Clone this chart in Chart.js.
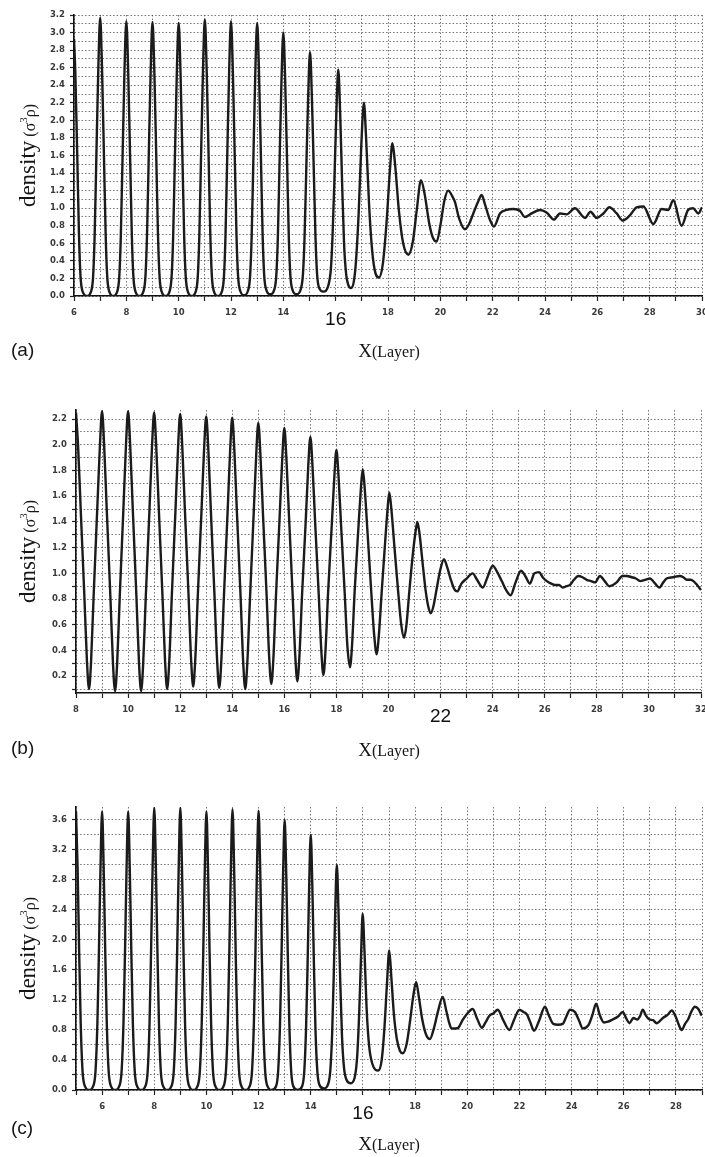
<!DOCTYPE html>
<html>
<head>
<meta charset="utf-8">
<script src="https://cdn.jsdelivr.net/npm/chart.js@4.4.0/dist/chart.umd.min.js"></script>
<style>
  html, body { margin: 0; padding: 0; background: #fff; width: 705px; height: 1157px; overflow: hidden; }
  .panel { position: absolute; left: 0; width: 720px; }
</style>
</head>
<body>
<div class="panel" style="top:0px;height:370px"><canvas id="chartA"></canvas></div>
<div class="panel" style="top:370px;height:390px"><canvas id="chartB"></canvas></div>
<div class="panel" style="top:760px;height:397px"><canvas id="chartC"></canvas></div>
<script>
// density profiles (a), (b), (c) as [x, density] pairs

const densityA = [
  [6.00,2.93],[6.05,2.55],[6.13,1.52],[6.19,0.70],[6.25,0.22],[6.33,0.05],[6.50,0.00],
  [6.65,0.05],[6.73,0.22],[6.79,0.70],[6.85,1.52],[6.93,2.60],[7.00,3.17],[7.07,2.60],[7.15,1.52],[7.21,0.70],[7.27,0.22],[7.35,0.05],[7.50,0.00],
  [7.65,0.05],[7.73,0.22],[7.79,0.69],[7.85,1.50],[7.93,2.57],[8.00,3.13],[8.07,2.57],[8.15,1.50],[8.21,0.69],[8.27,0.22],[8.35,0.05],[8.50,0.00],
  [8.65,0.05],[8.73,0.22],[8.79,0.69],[8.85,1.50],[8.93,2.56],[9.00,3.12],[9.07,2.56],[9.15,1.50],[9.21,0.69],[9.27,0.22],[9.35,0.05],[9.50,0.00],
  [9.65,0.05],[9.73,0.22],[9.79,0.68],[9.85,1.49],[9.93,2.55],[10.00,3.11],[10.07,2.55],[10.15,1.49],[10.21,0.68],[10.27,0.22],[10.35,0.05],[10.50,0.00],
  [10.65,0.05],[10.73,0.22],[10.79,0.69],[10.85,1.51],[10.93,2.58],[11.00,3.15],[11.07,2.58],[11.15,1.51],[11.21,0.69],[11.27,0.22],[11.35,0.05],[11.50,0.00],
  [11.65,0.05],[11.73,0.22],[11.79,0.69],[11.85,1.50],[11.93,2.57],[12.00,3.13],[12.07,2.57],[12.15,1.50],[12.21,0.69],[12.27,0.23],[12.35,0.06],[12.50,0.01],
  [12.65,0.06],[12.73,0.23],[12.79,0.68],[12.85,1.49],[12.93,2.55],[13.00,3.11],[13.07,2.55],[13.15,1.49],[13.21,0.68],[13.27,0.23],[13.35,0.07],[13.50,0.02],
  [13.65,0.07],[13.73,0.23],[13.79,0.66],[13.85,1.44],[13.93,2.46],[14.00,3.00],[14.07,2.46],[14.15,1.44],[14.21,0.66],[14.27,0.23],[14.35,0.07],[14.51,0.02],
  [14.67,0.08],[14.75,0.25],[14.81,0.66],[14.87,1.36],[14.95,2.28],[15.02,2.78],[15.09,2.28],[15.17,1.36],[15.23,0.66],[15.29,0.25],[15.37,0.09],[15.53,0.05],
  [15.72,0.12],[15.82,0.32],[15.88,0.68],[15.95,1.30],[16.03,2.12],[16.10,2.58],[16.17,2.10],[16.25,1.25],[16.32,0.60],[16.40,0.25],[16.48,0.13],[16.58,0.09],
  [16.75,0.30],[16.88,0.95],[16.98,1.72],[17.08,2.20],[17.16,1.82],[17.28,1.02],[17.40,0.50],[17.52,0.26],[17.65,0.21],
  [17.80,0.36],[17.95,0.86],[18.07,1.42],[18.17,1.74],[18.27,1.50],[18.42,0.96],[18.58,0.60],[18.78,0.47],
  [18.95,0.62],[19.10,0.98],[19.26,1.32],[19.40,1.16],[19.58,0.82],[19.72,0.66],[19.86,0.62],
  [20.00,0.80],[20.15,1.08],[20.30,1.20],[20.45,1.14],[20.56,1.07],[20.72,0.88],[20.94,0.76],
  [21.10,0.82],[21.26,0.94],[21.45,1.08],[21.58,1.15],[21.70,1.05],[21.88,0.88],[22.05,0.79],
  [22.28,0.94],[22.53,0.98],[22.79,0.99],[23.04,0.97],[23.23,0.90],[23.49,0.94],[23.81,0.98],[24.06,0.95],
  [24.34,0.87],[24.57,0.94],[24.83,0.93],[25.14,1.00],[25.53,0.89],[25.74,0.96],[25.97,0.89],[26.23,0.94],
  [26.46,1.01],[26.74,0.94],[26.97,0.86],[27.25,0.92],[27.50,1.01],[27.76,1.02],[28.14,0.82],[28.46,0.99],
  [28.71,0.98],[28.90,1.09],[29.22,0.80],[29.47,0.98],[29.66,1.00],[29.86,0.94],[30.00,1.01]
];
const xTicksA = [6,7,8,9,10,11,12,13,14,15,16,17,18,19,20,21,22,23,24,25,26,27,28,29,30];
const xLabelsA = [6,8,10,12,14,16,18,20,22,24,26,28,30];
const yTicksA = [0.0,0.1,0.2,0.3,0.4,0.5,0.6,0.7,0.8,0.9,1.0,1.1,1.2,1.3,1.4,1.5,1.6,1.7,1.8,1.9,2.0,2.1,2.2,2.3,2.4,2.5,2.6,2.7,2.8,2.9,3.0,3.1,3.2];
const yLabelsA = [0.0,0.2,0.4,0.6,0.8,1.0,1.2,1.4,1.6,1.8,2.0,2.2,2.4,2.6,2.8,3.0,3.2];
const bigLabelA = 16;

const densityB = [
  [8.00,2.25],[8.08,1.99],[8.18,1.50],[8.32,0.83],[8.42,0.32],[8.50,0.10],
  [8.58,0.32],[8.68,0.84],[8.82,1.52],[8.92,2.00],[9.00,2.26],[9.08,2.00],[9.18,1.50],[9.32,0.82],[9.42,0.30],[9.50,0.085],
  [9.58,0.30],[9.68,0.82],[9.82,1.50],[9.92,2.00],[10.00,2.26],[10.08,2.00],[10.18,1.50],[10.32,0.82],[10.42,0.30],[10.50,0.085],
  [10.58,0.30],[10.68,0.82],[10.82,1.49],[10.92,1.99],[11.00,2.25],[11.08,1.99],[11.18,1.50],[11.32,0.83],[11.42,0.32],[11.50,0.10],
  [11.58,0.31],[11.68,0.83],[11.82,1.49],[11.92,1.98],[12.00,2.24],[12.08,1.99],[12.18,1.50],[12.32,0.84],[12.42,0.33],[12.50,0.12],
  [12.58,0.33],[12.68,0.84],[12.82,1.49],[12.92,1.97],[13.00,2.22],[13.08,1.97],[13.18,1.48],[13.32,0.82],[13.42,0.32],[13.50,0.11],
  [13.58,0.32],[13.68,0.82],[13.82,1.47],[13.92,1.96],[14.00,2.21],[14.08,1.96],[14.18,1.47],[14.32,0.82],[14.42,0.31],[14.50,0.10],
  [14.58,0.31],[14.68,0.80],[14.82,1.45],[14.92,1.92],[15.00,2.17],[15.08,1.93],[15.18,1.46],[15.32,0.83],[15.42,0.34],[15.50,0.14],
  [15.58,0.34],[15.68,0.83],[15.82,1.44],[15.92,1.89],[16.00,2.13],[16.08,1.89],[16.18,1.44],[16.32,0.83],[16.42,0.36],[16.50,0.16],
  [16.58,0.36],[16.68,0.83],[16.82,1.40],[16.92,1.84],[17.00,2.06],[17.08,1.84],[17.18,1.41],[17.32,0.84],[17.42,0.40],[17.50,0.21],
  [17.58,0.40],[17.68,0.85],[17.82,1.37],[17.92,1.75],[18.00,1.96],[18.08,1.76],[18.18,1.37],[18.32,0.84],[18.42,0.44],[18.52,0.27],
  [18.60,0.44],[18.70,0.86],[18.84,1.34],[18.93,1.63],[19.01,1.81],[19.09,1.65],[19.20,1.30],[19.34,0.85],[19.45,0.52],[19.55,0.37],
  [19.63,0.52],[19.74,0.86],[19.87,1.24],[19.96,1.49],[20.03,1.63],[20.11,1.50],[20.23,1.20],[20.37,0.86],[20.49,0.60],[20.60,0.50],
  [20.69,0.60],[20.80,0.86],[20.93,1.14],[21.03,1.31],[21.11,1.40],[21.19,1.31],[21.30,1.10],[21.43,0.86],[21.53,0.74],[21.62,0.69],
  [21.72,0.74],[21.85,0.88],[21.98,1.02],[22.13,1.11],[22.25,1.05],[22.38,0.96],[22.52,0.88],[22.64,0.86],
  [22.80,0.92],[23.00,0.96],[23.23,1.00],[23.40,0.95],[23.62,0.89],[23.80,0.97],[24.00,1.06],[24.15,1.02],
  [24.35,0.94],[24.52,0.87],[24.69,0.83],[24.88,0.93],[25.09,1.02],[25.25,0.98],[25.43,0.92],[25.60,1.00],
  [25.78,1.01],[25.92,0.97],[26.08,0.94],[26.25,0.92],[26.40,0.91],[26.55,0.91],[26.69,0.89],[26.83,0.90],
  [26.97,0.91],[27.12,0.95],[27.29,0.98],[27.45,0.97],[27.61,0.95],[27.78,0.94],[27.93,0.93],[28.12,0.98],
  [28.30,0.94],[28.48,0.90],[28.62,0.91],[28.76,0.93],[28.99,0.98],[29.15,0.98],[29.34,0.97],[29.50,0.96],
  [29.66,0.94],[29.85,0.95],[30.04,0.96],[30.20,0.93],[30.40,0.89],[30.55,0.93],[30.68,0.96],[30.93,0.97],
  [31.19,0.98],[31.32,0.97],[31.45,0.95],[31.60,0.95],[31.71,0.94],[31.85,0.91],[32.00,0.87]
];
const xTicksB = [8,9,10,11,12,13,14,15,16,17,18,19,20,21,22,23,24,25,26,27,28,29,30,31,32];
const xLabelsB = [8,10,12,14,16,18,20,22,24,26,28,30,32];
const yTicksB = [0.1,0.2,0.3,0.4,0.5,0.6,0.7,0.8,0.9,1.0,1.1,1.2,1.3,1.4,1.5,1.6,1.7,1.8,1.9,2.0,2.1,2.2];
const yLabelsB = [0.2,0.4,0.6,0.8,1.0,1.2,1.4,1.6,1.8,2.0,2.2];
const bigLabelB = 22;

const densityC = [
  [5.00,3.71],[5.06,2.97],[5.12,1.86],[5.18,0.89],[5.25,0.26],[5.33,0.06],[5.50,0.00],
  [5.67,0.06],[5.75,0.26],[5.82,0.89],[5.88,1.86],[5.94,2.97],[6.00,3.71],[6.06,2.97],[6.12,1.86],[6.18,0.89],[6.25,0.26],[6.33,0.06],[6.50,0.00],
  [6.67,0.06],[6.75,0.26],[6.82,0.89],[6.88,1.86],[6.94,2.97],[7.00,3.71],[7.06,2.97],[7.12,1.86],[7.18,0.89],[7.25,0.26],[7.33,0.06],[7.50,0.00],
  [7.67,0.06],[7.75,0.26],[7.82,0.90],[7.88,1.88],[7.94,3.01],[8.00,3.76],[8.06,3.01],[8.12,1.88],[8.18,0.90],[8.25,0.26],[8.33,0.06],[8.50,0.00],
  [8.67,0.06],[8.75,0.26],[8.82,0.90],[8.88,1.88],[8.94,3.01],[9.00,3.76],[9.06,3.01],[9.12,1.88],[9.18,0.90],[9.25,0.26],[9.33,0.06],[9.50,0.00],
  [9.67,0.06],[9.75,0.26],[9.82,0.89],[9.88,1.86],[9.94,2.97],[10.00,3.71],[10.06,2.97],[10.12,1.86],[10.18,0.89],[10.25,0.26],[10.33,0.06],[10.50,0.00],
  [10.67,0.06],[10.75,0.26],[10.82,0.90],[10.88,1.87],[10.94,2.99],[11.00,3.74],[11.06,2.99],[11.12,1.87],[11.18,0.90],[11.25,0.26],[11.33,0.06],[11.50,0.00],
  [11.67,0.06],[11.75,0.26],[11.82,0.89],[11.88,1.86],[11.94,2.98],[12.00,3.72],[12.06,2.98],[12.12,1.86],[12.18,0.89],[12.25,0.26],[12.33,0.06],[12.50,0.00],
  [12.67,0.05],[12.75,0.25],[12.82,0.86],[12.88,1.80],[12.94,2.88],[13.00,3.60],[13.06,2.88],[13.12,1.80],[13.18,0.86],[13.25,0.25],[13.33,0.05],[13.50,0.00],
  [13.67,0.05],[13.75,0.24],[13.82,0.82],[13.88,1.70],[13.94,2.72],[14.00,3.40],[14.06,2.72],[14.12,1.70],[14.18,0.82],[14.25,0.26],[14.33,0.07],[14.50,0.02],
  [14.67,0.08],[14.75,0.26],[14.82,0.75],[14.88,1.50],[14.94,2.40],[15.00,3.00],[15.06,2.42],[15.13,1.45],[15.20,0.70],[15.28,0.28],[15.38,0.13],[15.53,0.09],
  [15.68,0.16],[15.78,0.45],[15.86,1.05],[15.93,1.80],[15.99,2.35],[16.06,1.85],[16.14,1.10],[16.24,0.58],[16.36,0.35],[16.59,0.26],
  [16.72,0.40],[16.82,0.80],[16.92,1.40],[17.01,1.86],[17.09,1.50],[17.19,1.00],[17.30,0.68],[17.42,0.52],[17.53,0.49],
  [17.68,0.62],[17.80,0.90],[17.93,1.25],[18.04,1.44],[18.14,1.25],[18.27,0.95],[18.42,0.74],[18.57,0.68],
  [18.72,0.82],[18.88,1.05],[19.06,1.24],[19.20,1.05],[19.32,0.88],[19.40,0.82],[19.55,0.82],[19.66,0.83],
  [19.82,0.93],[19.98,1.01],[20.21,1.08],[20.38,0.95],[20.56,0.83],[20.70,0.90],[20.85,0.99],[21.00,1.02],
  [21.17,1.07],[21.38,0.93],[21.61,0.80],[21.80,0.94],[22.00,1.07],[22.15,1.04],[22.28,1.01],[22.42,0.90],
  [22.56,0.79],[22.75,0.92],[22.98,1.11],[23.12,1.00],[23.30,0.88],[23.48,0.87],[23.66,0.88],[23.80,0.98],
  [23.94,1.07],[24.13,1.04],[24.28,0.93],[24.43,0.82],[24.64,0.86],[24.80,1.00],[24.94,1.15],[25.08,1.00],
  [25.24,0.90],[25.40,0.91],[25.58,0.94],[25.78,0.98],[25.96,1.04],[26.10,0.95],[26.22,0.89],[26.37,0.96],
  [26.52,0.94],[26.62,0.98],[26.73,1.07],[26.85,0.99],[26.98,0.94],[27.12,0.93],[27.26,0.89],[27.50,0.96],
  [27.68,1.00],[27.84,1.06],[28.00,0.97],[28.12,0.86],[28.22,0.80],[28.35,0.88],[28.48,0.95],[28.60,1.05],
  [28.73,1.11],[28.86,1.08],[28.99,0.99]
];
const xTicksC = [5,6,7,8,9,10,11,12,13,14,15,16,17,18,19,20,21,22,23,24,25,26,27,28,29];
const xLabelsC = [6,8,10,12,14,16,18,20,22,24,26,28];
const yTicksC = [0.0,0.2,0.4,0.6,0.8,1.0,1.2,1.4,1.6,1.8,2.0,2.2,2.4,2.6,2.8,3.0,3.2,3.4,3.6];
const yLabelsC = [0.0,0.4,0.8,1.2,1.6,2.0,2.4,2.8,3.2,3.6];
const bigLabelC = 16;

const serif = '"Liberation Serif", "Times New Roman", serif';
const sans = '"Liberation Sans", Arial, sans-serif';
const tickFamily = '"DejaVu Sans", Verdana, sans-serif';
const gridColor = 'rgba(60,60,60,0.7)';

// panel letter, axis titles: drawn on the canvas with mixed font sizes
const textPlugin = {
    id: 'panelText',
    afterDraw(chart, args, o) {
        const c = chart.ctx;
        const area = chart.chartArea;
        c.save();
        c.fillStyle = '#151515';
        c.textBaseline = 'alphabetic';

        // y title, rotated
        const yParts = [
            ['density', '23px ' + serif, 0],
            [' (\u03c3', '16px ' + serif, 0],
            ['3', '11px ' + serif, -8],
            ['\u03c1)', '16px ' + serif, 0]
        ];
        let total = 0;
        yParts.forEach(pt => { c.font = pt[1]; total += c.measureText(pt[0]).width; });
        c.save();
        c.translate(o.titleX, (area.top + area.bottom) / 2);
        c.rotate(-Math.PI / 2);
        let x = -total / 2;
        yParts.forEach(pt => {
            c.font = pt[1];
            c.fillText(pt[0], x, pt[2]);
            x += c.measureText(pt[0]).width;
        });
        c.restore();

        // x title
        const xParts = [['X', '19px ' + serif], ['(Layer)', '16px ' + serif]];
        total = 0;
        xParts.forEach(pt => { c.font = pt[1]; total += c.measureText(pt[0]).width; });
        x = o.xTitleX - total / 2;
        xParts.forEach(pt => {
            c.font = pt[1];
            c.fillText(pt[0], x, o.xTitleY);
            x += c.measureText(pt[0]).width;
        });

        // panel letter
        c.font = '19px ' + sans;
        c.textAlign = 'left';
        c.fillText(o.letter, 11, o.letterY);
        c.restore();
    }
};

function makeChart(canvasId, p) {
    const ctx = document.getElementById(canvasId).getContext('2d');
    const smallFont = { family: tickFamily, size: 8.5, weight: 'bold' };
    const bigFont = { family: sans, size: 19, weight: 'normal' };

    return new Chart(ctx, {
        type: 'line',
        data: {
            datasets: [{
                data: p.data,
                borderColor: '#1b1b1b',
                borderWidth: 2.4,
                pointRadius: 0,
                fill: false,
                cubicInterpolationMode: 'monotone'
            }]
        },
        options: {
            responsive: true,
            maintainAspectRatio: false,
            animation: false,
            layout: { padding: p.padding },
            plugins: {
                legend: { display: false },
                tooltip: { enabled: false },
                panelText: { letter: p.letter, letterY: p.letterY, xTitleX: 389, xTitleY: p.xTitleY, titleX: 35 }
            },
            scales: {
                x: {
                    type: 'linear',
                    min: p.xMin,
                    max: p.xMax,
                    afterBuildTicks: s => { s.ticks = p.xTicks.map(v => ({ value: v })); },
                    afterFit: s => { s.height = 30; },
                    ticks: {
                        autoSkip: false,
                        maxRotation: 0,
                        padding: 7,
                        callback: v => p.xLabels.includes(v) ? String(v) : '',
                        font: c => (c.tick && c.tick.value === p.bigLabel) ? bigFont : smallFont,
                        color: c => (c.tick && c.tick.value === p.bigLabel) ? '#111' : '#3a3a3a'
                    },
                    grid: { color: gridColor, lineWidth: 1, tickLength: 5, tickColor: '#222', tickWidth: 1.2, tickBorderDash: [] },
                    border: { display: true, color: '#111', width: 1.6, dash: [1.5, 2] }
                },
                y: {
                    type: 'linear',
                    min: p.yMin,
                    max: p.yMax,
                    afterBuildTicks: s => { s.ticks = p.yTicks.map(v => ({ value: v })); },
                    afterFit: s => { s.width = p.left; },
                    ticks: {
                        autoSkip: false,
                        padding: 5,
                        callback: v => p.yLabels.includes(v) ? v.toFixed(1) : '',
                        font: smallFont,
                        color: '#3a3a3a'
                    },
                    grid: { color: gridColor, lineWidth: 1, tickLength: 4, tickColor: '#222', tickWidth: 1.2, tickBorderDash: [] },
                    border: { display: true, color: '#111', width: 1.6, dash: [1.5, 2] }
                }
            }
        },
        plugins: [textPlugin]
    });
}

makeChart('chartA', {
    data: densityA, xTicks: xTicksA, xLabels: xLabelsA, yTicks: yTicksA, yLabels: yLabelsA, bigLabel: bigLabelA,
    xMin: 6, xMax: 30, yMin: 0, yMax: 3.2, left: 74,
    padding: { top: 15, right: 18, bottom: 44, left: 0 },
    letter: '(a)', letterY: 356, xTitleY: 357
});
makeChart('chartB', {
    data: densityB, xTicks: xTicksB, xLabels: xLabelsB, yTicks: yTicksB, yLabels: yLabelsB, bigLabel: bigLabelB,
    xMin: 8, xMax: 32, yMin: 0.07, yMax: 2.27, left: 76,
    padding: { top: 40, right: 19, bottom: 37, left: 0 },
    letter: '(b)', letterY: 384, xTitleY: 386
});
makeChart('chartC', {
    data: densityC, xTicks: xTicksC, xLabels: xLabelsC, yTicks: yTicksC, yLabels: yLabelsC, bigLabel: bigLabelC,
    xMin: 5, xMax: 29, yMin: 0, yMax: 3.77, left: 76,
    padding: { top: 47, right: 18, bottom: 37, left: 0 },
    letter: '(c)', letterY: 374, xTitleY: 390
});
</script>
</body>
</html>
